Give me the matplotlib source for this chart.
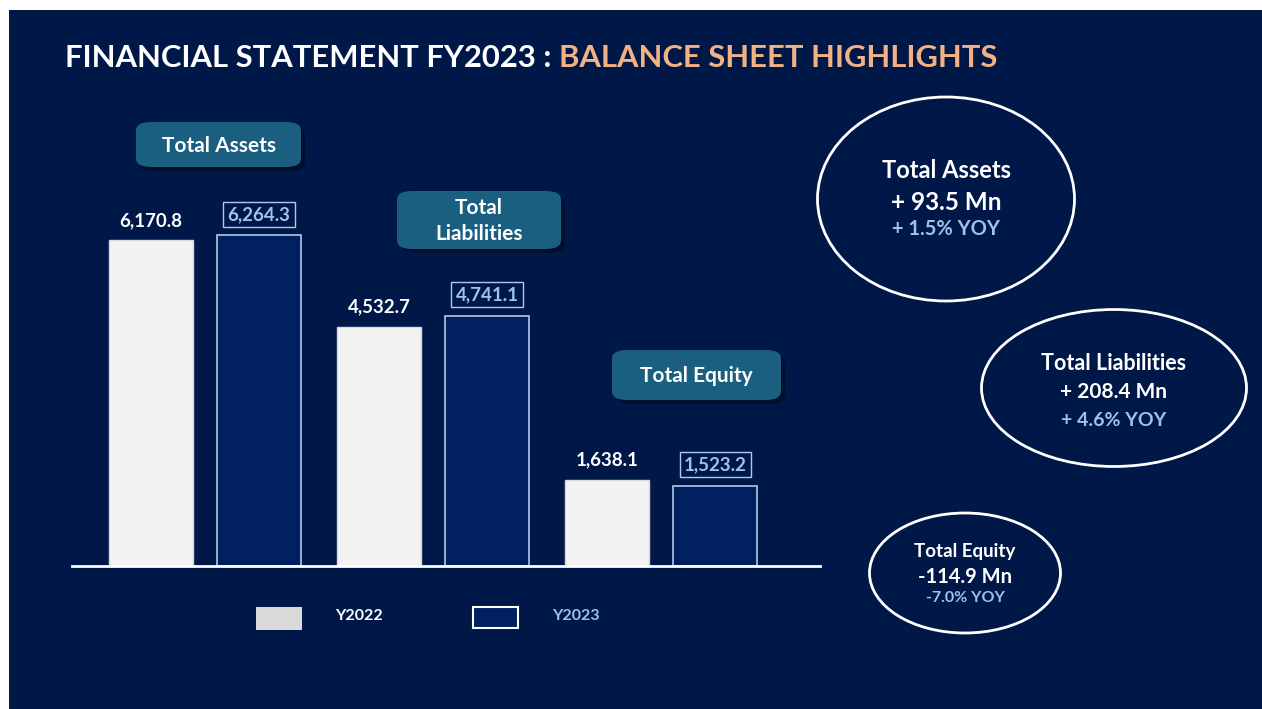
import matplotlib
matplotlib.use('Agg')
import matplotlib.pyplot as plt
import numpy as np
from matplotlib.patches import Rectangle, FancyBboxPatch, Ellipse

plt.rcParams['font.family'] = ['Lato', 'DejaVu Sans']

# data
categories = ['Total Assets', 'Total\nLiabilities', 'Total Equity']
y2022 = [6170.8, 4532.7, 1638.1]
y2023 = [6264.3, 4741.1, 1523.2]
series_names = ['Y2022', 'Y2023']
summary_titles = ['Total Assets', 'Total Liabilities', 'Total Equity']
summary_change = ['+ 93.5 Mn', '+ 208.4 Mn', '-114.9 Mn']
summary_yoy = ['+ 1.5% YOY', '+ 4.6% YOY', '-7.0% YOY']

BG = '#001848'
BAR_NAVY = '#002060'
TEAL = '#1a5e80'
LIGHT_BLUE = '#9dc3e6'
ORANGE = '#f4b183'

W, H = 1262, 709
fig = plt.figure(figsize=(W / 100, H / 100), dpi=100, facecolor='white')

def fx(px):
    return px / W

def fy(py):
    return 1 - py / H

# slide background
fig.patches.append(Rectangle((fx(9), 0), 1 - fx(9), fy(10), transform=fig.transFigure,
                             facecolor=BG, edgecolor='none', zorder=-10))

# title in two colours
t1 = fig.text(fx(65), fy(58), 'FINANCIAL STATEMENT FY2023 : ', color='white',
              fontsize=22.3, fontweight='bold', va='center', ha='left')
fig.canvas.draw()
bb = t1.get_window_extent()
fig.text(bb.x1 / W, fy(58), 'BALANCE SHEET HIGHLIGHTS', color=ORANGE,
         fontsize=22.3, fontweight='bold', va='center', ha='left')

# bar chart
ax = fig.add_axes([fx(72), 143 / H, fx(820) - fx(72), 466 / H])
ax.set_facecolor('none')
x = np.arange(len(categories))
bw = 0.368
off = 0.237
ax.bar(x - off, y2022, width=bw, color='#f2f2f2', edgecolor='#d9d9d9', linewidth=1)
ax.bar(x + off, y2023, width=bw, color=BAR_NAVY, edgecolor='#b4c7e7', linewidth=1.2)
ax.set_xlim(-0.583, 2.697)
ax.set_ylim(0, 8826)
for s in ['top', 'right', 'left']:
    ax.spines[s].set_visible(False)
ax.spines['bottom'].set_color('white')
ax.spines['bottom'].set_linewidth(2)
ax.set_xticks([])
ax.set_yticks([])

for i in range(len(categories)):
    ax.annotate(f'{y2022[i]:,.1f}', (x[i] - off, y2022[i]), xytext=(0, 14),
                textcoords='offset points', ha='center', va='center',
                color='white', fontsize=13.5, fontweight='bold')
    ax.annotate(f'{y2023[i]:,.1f}', (x[i] + off, y2023[i]), xytext=(0, 15),
                textcoords='offset points', ha='center', va='center',
                color=LIGHT_BLUE, fontsize=13.5, fontweight='bold',
                bbox=dict(boxstyle='square,pad=0.22', facecolor='none',
                          edgecolor='#b4c7e7', linewidth=1))

# category label boxes (pixel positions: left, top, right, bottom)
label_boxes = [(136, 122, 301, 167), (397, 191, 561, 249), (612, 350, 781, 400)]
for (l, t, r, b), name in zip(label_boxes, categories):
    fig.patches.append(FancyBboxPatch((fx(l + 4), fy(b + 4)), fx(r) - fx(l), fy(t) - fy(b),
                                      boxstyle='round,pad=0,rounding_size=0.012',
                                      transform=fig.transFigure, facecolor='black',
                                      edgecolor='none', alpha=0.35, zorder=1))
    fig.patches.append(FancyBboxPatch((fx(l), fy(b)), fx(r) - fx(l), fy(t) - fy(b),
                                      boxstyle='round,pad=0,rounding_size=0.012',
                                      transform=fig.transFigure, facecolor=TEAL,
                                      edgecolor='none', zorder=2))
    fig.text(fx((l + r) / 2), fy((t + b) / 2 + 1), name, ha='center', va='center',
             color='white', fontsize=15, fontweight='bold', linespacing=1.4, zorder=3)

# legend
fig.patches.append(Rectangle((fx(256), fy(630)), fx(302) - fx(256), fy(607) - fy(630),
                             transform=fig.transFigure, facecolor='#d9d9d9', edgecolor='none'))
fig.text(fx(335), fy(616), series_names[0], color='white', fontsize=11.5,
         fontweight='bold', va='center', ha='left')
fig.patches.append(Rectangle((fx(473), fy(628)), fx(518) - fx(473), fy(607) - fy(628),
                             transform=fig.transFigure, facecolor=BAR_NAVY,
                             edgecolor='white', linewidth=1.5))
fig.text(fx(552), fy(616), series_names[1], color=LIGHT_BLUE, fontsize=11.5,
         fontweight='bold', va='center', ha='left')

# summary ellipses: centre x, centre y, width, height, line y positions, font sizes
ellipses = [
    (946, 199, 257, 204, (171, 202, 229), (17, 17.5, 14.5)),
    (1114, 388, 265, 157, (364, 392, 421), (15.5, 15, 14)),
    (965, 573, 191, 120, (552, 577, 598), (13.5, 14.5, 11.5)),
]
for i, (cx, cy, w, h, ys, fs) in enumerate(ellipses):
    fig.patches.append(Ellipse((fx(cx), fy(cy)), w / W, h / H, transform=fig.transFigure,
                               facecolor='none', edgecolor='white', linewidth=2))
    fig.text(fx(cx), fy(ys[0]), summary_titles[i], ha='center', va='center',
             color='white', fontsize=fs[0], fontweight='bold')
    fig.text(fx(cx), fy(ys[1]), summary_change[i], ha='center', va='center',
             color='white', fontsize=fs[1], fontweight='bold')
    fig.text(fx(cx), fy(ys[2]), summary_yoy[i], ha='center', va='center',
             color=LIGHT_BLUE, fontsize=fs[2], fontweight='bold')

fig.savefig('out.png', dpi=100, facecolor='white')
